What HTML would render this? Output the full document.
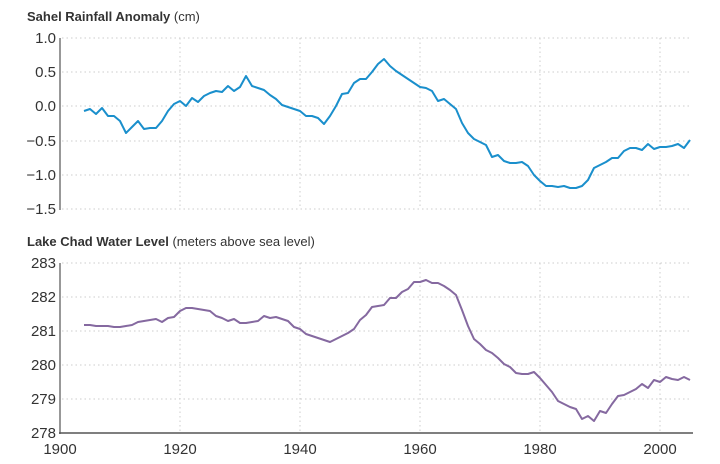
<!DOCTYPE html>
<html><head><meta charset="utf-8"><style>
body{margin:0;background:#fff;}
svg{display:block;font-family:"Liberation Sans",sans-serif;}
.t{font-size:13px;fill:#333;}
.l{font-size:13px;fill:#333;}
.g{stroke:#ccc;stroke-width:1;stroke-dasharray:1.5 3;}
</style></head><body>
<svg width="720" height="464" viewBox="0 0 720 464">
<text x="27" y="21" class="t"><tspan font-weight="bold">Sahel Rainfall Anomaly</tspan> (cm)</text>
<g class="g">
<line x1="62" y1="38" x2="690" y2="38"/><line x1="62" y1="72" x2="690" y2="72"/><line x1="62" y1="106" x2="690" y2="106"/><line x1="62" y1="141" x2="690" y2="141"/><line x1="62" y1="175" x2="690" y2="175"/><line x1="62" y1="209" x2="690" y2="209"/>
<line x1="180" y1="38" x2="180" y2="209"/><line x1="300" y1="38" x2="300" y2="209"/><line x1="420" y1="38" x2="420" y2="209"/><line x1="540" y1="38" x2="540" y2="209"/><line x1="660" y1="38" x2="660" y2="209"/>
</g>
<line x1="60" y1="38" x2="60" y2="210" stroke="#777" stroke-width="1.5"/>
<g class="l" text-anchor="end" font-size="15">
<text x="56" y="43" font-size="15">1.0</text><text x="56" y="77" font-size="15">0.5</text><text x="56" y="111" font-size="15">0.0</text><text x="56" y="146" font-size="15">−0.5</text><text x="56" y="180" font-size="15">−1.0</text><text x="56" y="214" font-size="15">−1.5</text>
</g>
<polyline fill="none" stroke="#1a8fcc" stroke-width="2" stroke-linejoin="round" points="84,111 90,109 96,114 102,108 108,116 114,116 120,121 126,133 132,127 138,121 144,129 150,128 156,128 162,121 168,111 174,104 180,101 186,106 192,98 198,102 204,96 210,93 216,91 222,92 228,86 234,91 240,87 246,76 252,86 258,88 264,90 270,95 276,99 282,105 288,107 294,109 300,111 306,116 312,116 318,118 324,124 330,116 336,106 342,94 348,93 354,83 360,79 366,79 372,72 378,64 384,59 390,66 396,71 402,75 408,79 414,83 420,87 426,88 432,91 438,101 444,99 450,104 456,109 462,123 468,133 474,139 480,142 486,145 492,157 498,155 504,161 510,163 516,163 522,162 528,166 534,175 540,181 546,186 552,186 558,187 564,186 570,188 576,188 582,186 588,180 594,168 600,165 606,162 612,158 618,158 624,151 630,148 636,148 642,150 648,144 654,149 660,147 666,147 672,146 678,144 684,148 690,140"/>

<text x="27" y="246" class="t"><tspan font-weight="bold">Lake Chad Water Level</tspan> (meters above sea level)</text>
<g class="g">
<line x1="62" y1="263" x2="690" y2="263"/><line x1="62" y1="297" x2="690" y2="297"/><line x1="62" y1="331" x2="690" y2="331"/><line x1="62" y1="365" x2="690" y2="365"/><line x1="62" y1="399" x2="690" y2="399"/>
<line x1="180" y1="263" x2="180" y2="433"/><line x1="300" y1="263" x2="300" y2="433"/><line x1="420" y1="263" x2="420" y2="433"/><line x1="540" y1="263" x2="540" y2="433"/><line x1="660" y1="263" x2="660" y2="433"/>
</g>
<line x1="60" y1="263" x2="60" y2="434" stroke="#777" stroke-width="1.5"/>
<line x1="59" y1="433" x2="693" y2="433" stroke="#555" stroke-width="1.5"/>
<g class="l" text-anchor="end">
<text x="56" y="268" font-size="15">283</text><text x="56" y="302" font-size="15">282</text><text x="56" y="336" font-size="15">281</text><text x="56" y="370" font-size="15">280</text><text x="56" y="404" font-size="15">279</text><text x="56" y="438" font-size="15">278</text>
</g>
<g class="l" text-anchor="middle">
<text x="60" y="454" font-size="15">1900</text><text x="180" y="454" font-size="15">1920</text><text x="300" y="454" font-size="15">1940</text><text x="420" y="454" font-size="15">1960</text><text x="540" y="454" font-size="15">1980</text><text x="660" y="454" font-size="15">2000</text>
</g>
<polyline fill="none" stroke="#8569a0" stroke-width="2" stroke-linejoin="round" points="84,325 90,325 96,326 102,326 108,326 114,327 120,327 126,326 132,325 138,322 144,321 150,320 156,319 162,322 168,318 174,317 180,311 186,308 192,308 198,309 204,310 210,311 216,316 222,318 228,321 234,319 240,323 246,323 252,322 258,321 264,316 270,318 276,317 282,319 288,321 294,327 300,329 306,334 312,336 318,338 324,340 330,342 336,339 342,336 348,333 354,329 360,320 366,315 372,307 378,306 384,305 390,298 396,298 402,292 408,289 414,282 420,282 426,280 432,283 438,283 444,286 450,290 456,295 462,310 468,326 474,339 480,344 486,350 492,353 498,358 504,364 510,367 516,373 522,374 528,374 534,372 540,378 546,385 552,392 558,401 564,404 570,407 576,409 582,419 588,416 594,421 600,411 606,413 612,404 618,396 624,395 630,392 636,389 642,384 648,388 654,380 660,382 666,377 672,379 678,380 684,377 690,380"/>
</svg>
</body></html>
